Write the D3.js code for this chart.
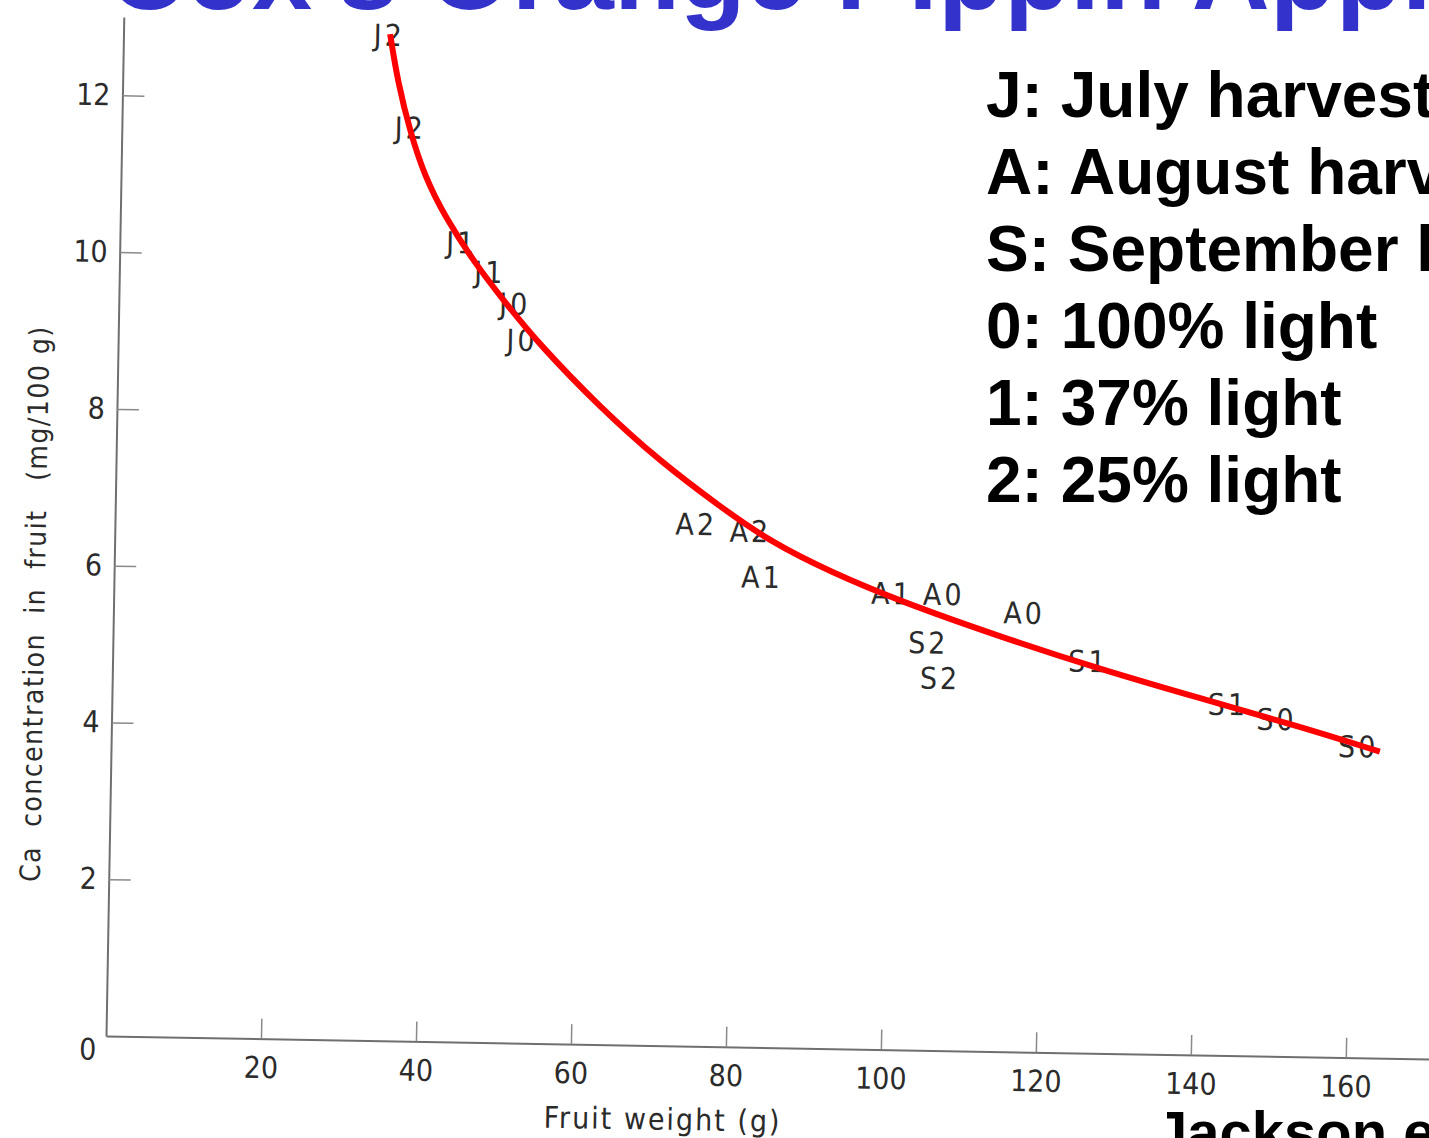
<!DOCTYPE html>
<html>
<head>
  <meta charset="utf-8">
  <script src="https://d3js.org/d3.v7.min.js"></script>
  <style>
    body { margin: 0; background: #fff; }
    .scan text { font-family: "Liberation Sans Narrow", "DejaVu Sans Condensed", sans-serif; fill: #2b2b2b; }
    .slide text { font-family: "Liberation Sans", Arial, sans-serif; font-weight: bold; }
  </style>
</head>
<body>
<script>
  // values
  var pointLabels = ["J2","J2","J1","J1","J0","J0","A2","A2","A1","A1","A0","A0","S2","S2","S1","S1","S0","S0"];
  var fruitWeight = [34.3,37.2,44.1,47.8,51.1,52.1,75.0,82.0,83.6,100.4,107.1,117.5,105.2,106.8,125.9,144.0,150.3,160.9];
  var caConc      = [12.83,11.65,10.2,9.83,9.43,8.97,6.66,6.58,6.0,5.82,5.82,5.6,5.2,4.75,5.0,4.48,4.3,3.97];

  // red fitted curve
  var fitWeight = [34.4,35.5,37.2,39.2,41.9,45.9,49.8,54.4,62.3,70.2,78.0,84.6,92.4,101.5,114.5,127.4,140.4,153.4,163.7];
  var fitCa     = [12.84,12.23,11.6,11.03,10.52,9.93,9.45,8.91,8.13,7.45,6.89,6.45,6.08,5.72,5.29,4.90,4.55,4.21,3.91];

  var xTicks = [20,40,60,80,100,120,140,160];
  var yTicks = [2,4,6,8,10,12];

  var titleText = "Cox's Orange Pippin Apples";
  var legendLines = ["J: July harvest", "A: August harvest", "S: September harvest",
                     "0: 100% light", "1: 37% light", "2: 25% light"];
  var sourceText = "Jackson et al. (1971)";

  var W = 1429, H = 1138;
  var svg = d3.select("body").append("svg")
      .attr("width", W).attr("height", H);

  // the scanned figure sits a little tilted on the slide
  var scan = svg.append("g")
      .attr("class", "scan")
      .attr("transform", "translate(106,1036) rotate(1)");

  var x = d3.scaleLinear().domain([0, 175]).range([0, 175 * 7.75]);
  var y = d3.scaleLinear().domain([0, 13]).range([0, -13 * 78.4]);

  var xAxis = scan.append("g")
      .call(d3.axisBottom(x).tickValues(xTicks).tickSize(-20).tickSizeOuter(0).tickPadding(18));
  var yAxis = scan.append("g")
      .call(d3.axisLeft(y).tickValues(yTicks).tickSize(-22).tickSizeOuter(0).tickPadding(12));

  [xAxis, yAxis].forEach(function(a) {
    a.select(".domain").attr("stroke", "#6f6f6f").attr("stroke-width", 2);
    a.selectAll(".tick line").attr("stroke", "#8a8a8a").attr("stroke-width", 1.5);
    a.selectAll(".tick text").attr("font-size", 30).attr("fill", "#2b2b2b")
      .attr("font-family", null);
  });

  scan.append("text")
      .attr("x", -18).attr("y", 24)
      .attr("text-anchor", "middle")
      .attr("font-size", 30)
      .text("0");

  scan.append("text")
      .attr("x", x(72)).attr("y", 84)
      .attr("text-anchor", "middle")
      .attr("font-size", 30)
      .attr("letter-spacing", 2)
      .text("Fruit weight (g)");

  scan.append("text")
      .attr("transform", "translate(-69," + y(5.5) + ") rotate(-90)")
      .attr("text-anchor", "middle")
      .attr("font-size", 28)
      .attr("letter-spacing", 1.5)
      .attr("xml:space", "preserve")
      .text("Ca  concentration  in  fruit   (mg/100 g)");

  var pts = pointLabels.map(function(d, i) {
    return { label: d, w: fruitWeight[i], ca: caConc[i] };
  });

  scan.selectAll(".pt")
      .data(pts)
    .enter().append("text")
      .attr("class", "pt")
      .attr("x", function(d) { return x(d.w); })
      .attr("y", function(d) { return y(d.ca); })
      .attr("text-anchor", "middle")
      .attr("dy", "0.36em")
      .attr("font-size", 30)
      .attr("letter-spacing", 3)
      .text(function(d) { return d.label; });

  var fit = fitWeight.map(function(w, i) { return [w, fitCa[i]]; });
  var line = d3.line()
      .x(function(d) { return x(d[0]); })
      .y(function(d) { return y(d[1]); })
      .curve(d3.curveBasis);

  scan.append("path")
      .datum(fit)
      .attr("d", line)
      .attr("fill", "none")
      .attr("stroke", "#ff0000")
      .attr("stroke-width", 6)
      .attr("stroke-linecap", "butt");

  // slide overlay texts
  var slide = svg.append("g").attr("class", "slide");

  slide.append("text")
      .attr("x", 108).attr("y", 9)
      .attr("font-size", 108)
      .attr("fill", "#3333cc")
      .text(titleText);

  slide.selectAll(".leg")
      .data(legendLines)
    .enter().append("text")
      .attr("class", "leg")
      .attr("x", 986)
      .attr("y", function(d, i) { return 117 + i * 77; })
      .attr("font-size", 64)
      .attr("fill", "#000")
      .text(function(d) { return d; });

  slide.append("text")
      .attr("x", 1155).attr("y", 1152)
      .attr("font-size", 58)
      .attr("fill", "#000")
      .text(sourceText);
</script>
</body>
</html>
